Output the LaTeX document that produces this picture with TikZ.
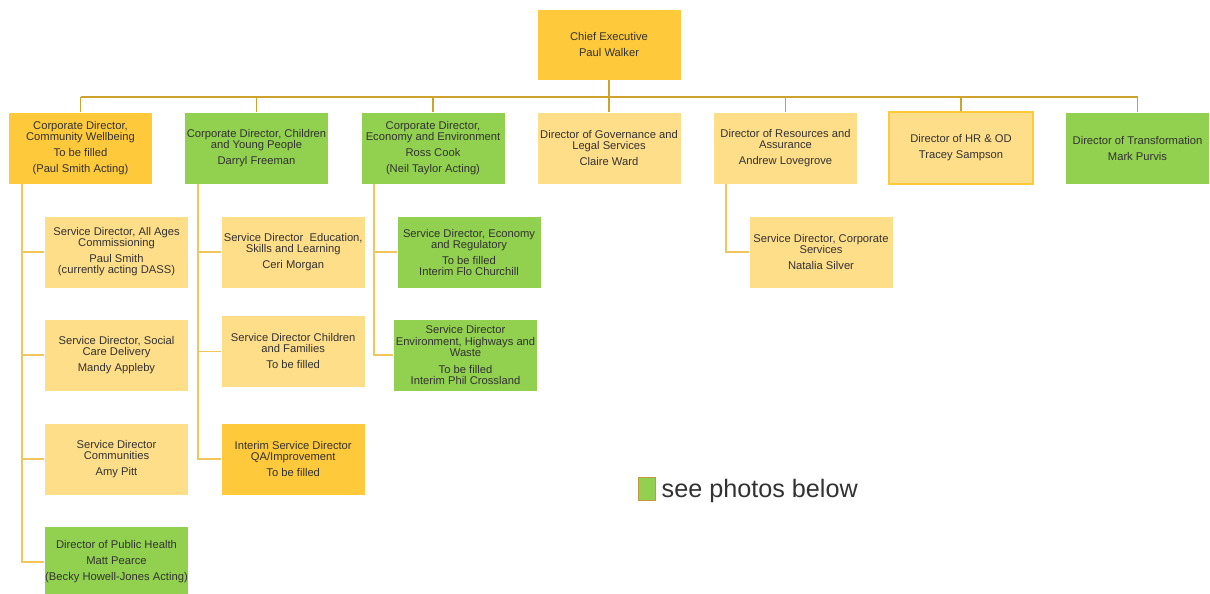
\documentclass[tikz,border=0pt]{standalone}
\usepackage{fontspec}
\setmainfont{Liberation Sans}
\usetikzlibrary{positioning}
\definecolor{goldfill}{RGB}{255,201,60}
\definecolor{palefill}{RGB}{255,222,138}
\definecolor{greenfill}{RGB}{146,208,80}
\definecolor{linkcol}{RGB}{205,163,45}
\definecolor{sublinkcol}{RGB}{240,198,92}
\definecolor{txtcol}{RGB}{50,50,50}
\definecolor{keyedge}{RGB}{200,150,62}

\begin{document}
\begin{tikzpicture}[x=1pt, y=-1pt,
  post/.style={minimum width=144pt, minimum height=72pt, inner sep=0pt, align=center,
    text=txtcol, font=\fontsize{11.2}{11}\selectfont, draw=white, line width=0.5pt},
  goldpost/.style={post, fill=goldfill},
  palepost/.style={post, fill=palefill},
  greenpost/.style={post, fill=greenfill},
  link/.style={draw=linkcol, line width=1.6pt},
  sublink/.style={draw=sublinkcol, line width=1.6pt}]
\useasboundingbox (0,0) rectangle (1210,594);
\fill[white] (0,0) rectangle (1210,594);

% top
\node[goldpost, minimum height=71pt] (ce) at (609,44.5) {Chief Executive\\[5pt]Paul Walker};

% directors
\node[goldpost] (cw) at (80.5,148) {Corporate Director,\\Community Wellbeing\\[5pt]To be filled\\[5pt](Paul Smith Acting)};
\node[greenpost] (cyp) at (256.5,148) {Corporate Director, Children\\and Young People\\[5pt]Darryl Freeman};
\node[greenpost] (ee) at (433,148) {Corporate Director,\\Economy and Environment\\[5pt]Ross Cook\\[5pt](Neil Taylor Acting)};
\node[palepost] (gov) at (609,148) {Director of Governance and\\Legal Services\\[5pt]Claire Ward};
\node[palepost] (res) at (785.5,148) {Director of Resources and\\Assurance\\[5pt]Andrew Lovegrove};
\node[palepost, draw=goldfill, line width=1.5pt] (hr) at (961,148) {Director of HR \& OD\\[5pt]Tracey Sampson};
\node[greenpost] (tr) at (1137.5,148) {Director of Transformation\\[5pt]Mark Purvis};

% community wellbeing
\node[palepost] (aac) at (116.5,252) {Service Director, All Ages\\Commissioning\\[5pt]Paul Smith\\(currently acting DASS)};
\node[palepost] (scd) at (116.5,355.2) {Service Director, Social\\Care Delivery\\[5pt]Mandy Appleby};
\node[palepost] (com) at (116.5,458.8) {Service Director\\Communities\\[5pt]Amy Pitt};
\node[greenpost] (ph) at (116.5,562) {Director of Public Health\\[5pt]Matt Pearce\\[5pt](Becky Howell-Jones Acting)};

% children and young people
\node[palepost] (esl) at (293.2,252) {Service Director~ Education,\\Skills and Learning\\[5pt]Ceri Morgan};
\node[palepost] (cf) at (293.2,351.4) {Service Director Children\\and Families\\[5pt]To be filled};
\node[goldpost] (qa) at (293.2,458.8) {Interim Service Director\\QA/Improvement\\[5pt]To be filled};

% economy and environment
\node[greenpost] (er) at (469,252) {Service Director, Economy\\and Regulatory\\[5pt]To be filled\\Interim Flo Churchill};
\node[greenpost, font=\fontsize{11.2}{11.6}\selectfont] (ehw) at (465.5,355.2) {Service Director\\Environment, Highways and\\Waste\\[5pt]To be filled\\Interim Phil Crossland};

% resources
\node[palepost] (cs) at (821,252) {Service Director, Corporate\\Services\\[5pt]Natalia Silver};

% connectors
\coordinate (bus) at (609,96.7);
\draw[link] (ce) -- (gov);
\draw[link] (bus -| cw) -- (bus -| tr);
\foreach \n in {cw,cyp,ee,res,hr,tr}
  \draw[link] (bus -| \n) -- (\n);
\foreach \c in {aac,scd,com,ph}
  \draw[sublink] ([xshift=14pt]cw.south west) |- (\c);
\foreach \c in {esl,cf,qa}
  \draw[sublink] ([xshift=14pt]cyp.south west) |- (\c);
\foreach \c in {er,ehw}
  \draw[sublink] ([xshift=13.3pt]ee.south west) |- (\c);
\draw[sublink] ([xshift=13pt]res.south west) |- (cs);

% key
\node[draw=keyedge, fill=greenfill, line width=1pt, minimum width=16.5pt, minimum height=22.5pt, inner sep=0pt] (key) at (647.2,488.8) {};
\node[anchor=base west, inner sep=0pt, text=txtcol, font=\fontsize{25.2}{25}\selectfont] (keytxt)
  at ([xshift=5.5pt, yshift=2.6pt]key.south east) {see photos below};
\end{tikzpicture}
\end{document}
